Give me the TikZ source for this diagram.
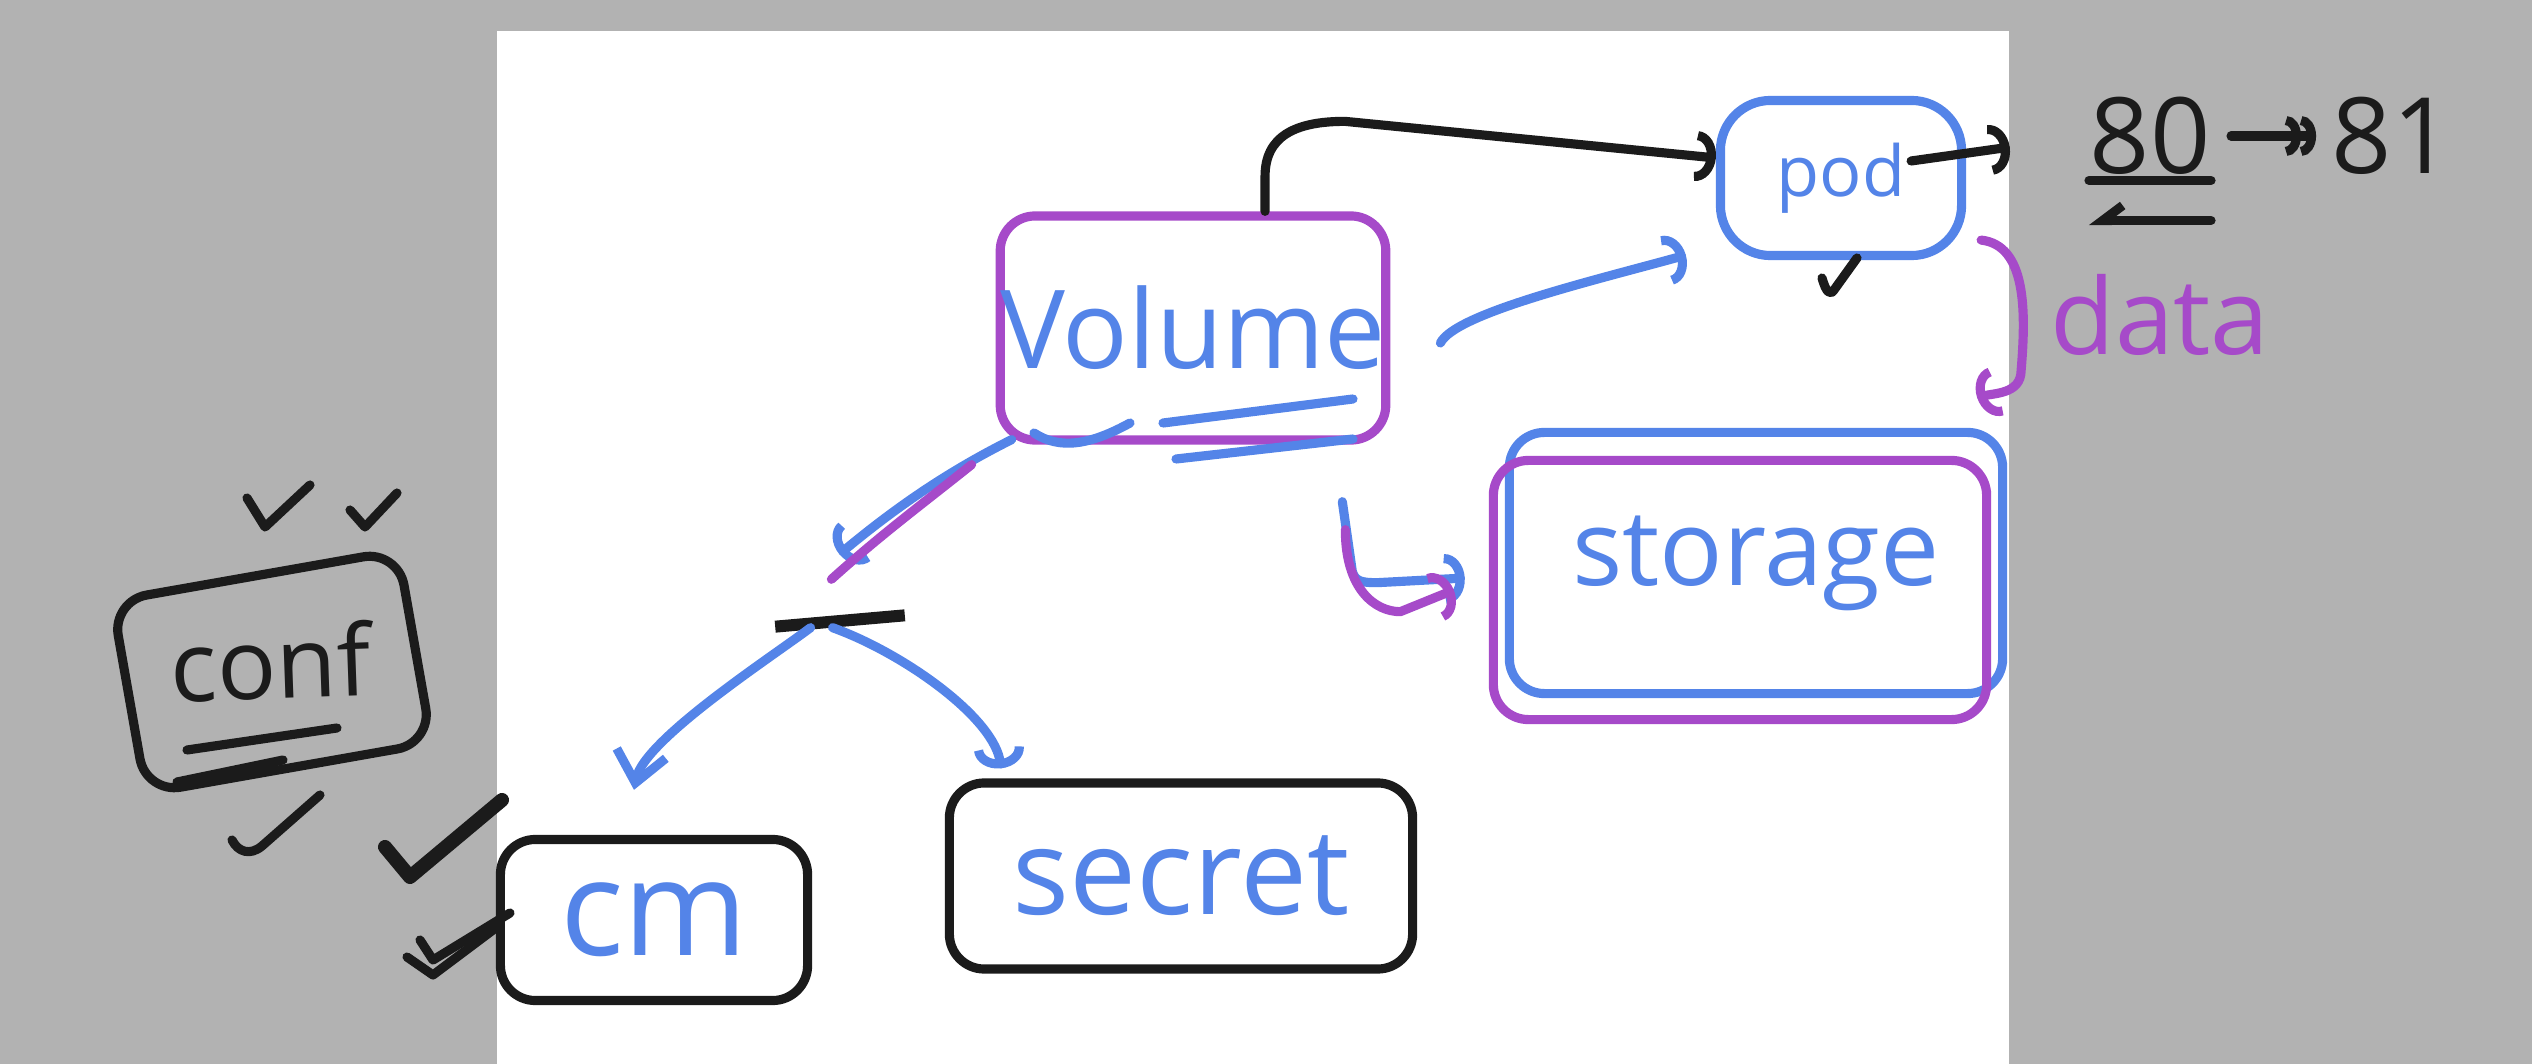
\documentclass[tikz,border=0pt]{standalone}
\usepackage{fontspec}
\newfontfamily\handfont{Open Sans}
\usetikzlibrary{positioning, arrows.meta}
\definecolor{backdrop}{HTML}{B2B2B2}
\definecolor{penblue}{HTML}{5484E8}
\definecolor{penpurple}{HTML}{A64AC9}
\definecolor{penblack}{HTML}{1B1B1B}

\begin{document}
\begin{tikzpicture}[x = 0.01cm, y = -0.01cm, line cap = round, line join = round,
		pen/.style={line width = 2.6pt},
		bluepen/.style={pen, draw = penblue},
		purplepen/.style={pen, draw = penpurple},
		blackpen/.style={pen, draw = penblack},
		box/.style={rectangle, pen, rounded corners = 0.35cm, inner sep = 0pt},
		words/.style={inner sep = 0pt, font = \handfont\fontsize{#1}{#1}\selectfont},
		arrow/.style={-{Arc Barb[length = 2mm, width = 5mm]}},
		vee/.style={-{Straight Barb[length = 3mm, width = 5mm]}}
	]
	
	\fill[backdrop] (0, 0) rectangle (2532, 1064);
	\fill[white] (497, 31) rectangle (2009, 1064);
	
	\node[box, draw = penpurple, minimum width = 3.84cm, minimum height = 2.24cm, words = 31, text = penblue] (volume) at (1193, 328) {Volume};
	\node[box, draw = penblue, rounded corners = 0.5cm, minimum width = 2.41cm, minimum height = 1.55cm, words = 20, text = penblue] (pod) at (1841, 178) {pod};
	\node[box, draw = penblue, minimum width = 4.93cm, minimum height = 2.61cm, words = 30, text = penblue] (storage) at (1756, 563) {storage};
	\node[box, draw = penpurple, minimum width = 4.93cm, minimum height = 2.59cm] (storageback) at (1740, 590) {};
	\node[box, draw = penblack, minimum width = 3.07cm, minimum height = 1.61cm, words = 38, text = penblue] (cm) at (654, 920) {cm};
	\node[box, draw = penblack, minimum width = 4.63cm, minimum height = 1.86cm, words = 34, text = penblue] (secret) at (1181, 876) {secret};
	\node[box, draw = penblack, rotate = 10, minimum width = 2.9cm, minimum height = 1.95cm, text depth = 0.5cm, words = 28, text = penblack] (conf) at (272, 672) {\rotatebox{-8}{conf}};
	\node[fill = penblack, rotate = 5, minimum width = 1.3cm, minimum height = 0.12cm, inner sep = 0pt] (split) at (840, 621) {};
	
	\node[words = 30, text = penpurple] (data) at (2160, 315) {data};
	\node[words = 30, text = penblack] (p80) at (2150, 136) {80};
	\node[words = 30, text = penblack, right = 1.2cm of p80] (p81) {81};
	
	\draw[blackpen, arrow] ([xshift = 0.72cm]volume.north) -- ++(0, -35) .. controls +(0, -40) and +(-50, 0) .. ++(80, -55) -- ([yshift = 0.2cm]pod.west);
	\draw[bluepen, arrow] ([xshift = 0.5cm, yshift = -0.15cm]volume.east) .. controls +(15, -30) and +(-90, 25) .. ([xshift = -0.3cm, yshift = 0.05cm]pod.south west);
	\draw[bluepen, arrow] ([xshift = -0.48cm, yshift = -0.57cm]volume.south east) -- ++(10, 70) .. controls +(3, 10) and +(-15, 0) .. ++(25, 11) -- ([xshift = -0.4cm, yshift = -0.15cm]storage.west);
	\draw[purplepen, arrow] ([xshift = -0.45cm, yshift = -0.85cm]volume.south east) .. controls +(0, 60) and +(-25, 0) .. ++(55, 82) -- ([xshift = -0.35cm]storageback.west);
	\draw[purplepen, arrow] ([xshift = 0.15cm, yshift = 0.2cm]pod.south east) .. controls +(45, 5) and +(5, -60) .. ++(40, 130) .. controls +(0, 25) and +(15, -5) .. ([xshift = -0.3cm, yshift = 0.3cm]storage.north east);
	\draw[blackpen, arrow, shorten >= 0.8cm] ([xshift = -0.55cm, yshift = 0.17cm]pod.east) -- (p80.west);
	\draw[blackpen, -{Arc Barb[length = 1.5mm, width = 4mm] Arc Barb[length = 1.5mm, width = 4mm]}, shorten <= 0.2cm, shorten >= 0.15cm] (p80) -- (p81);
	\draw[blackpen] ([yshift = -0.05cm]p80.south west) -- ([yshift = -0.05cm]p80.south east);
	\draw[blackpen, -{Straight Barb[right, length = 2mm, width = 3mm]}] ([yshift = -0.45cm]p80.south east) -- ([yshift = -0.45cm]p80.south west);
	
	\draw[bluepen, arrow] ([xshift = 0.16cm, yshift = 0.05cm]volume.south west) .. controls +(-60, 30) and +(60, -50) .. ([yshift = 0.6cm]split.north);
	\draw[purplepen] ([xshift = -0.24cm, yshift = -0.2cm]volume.south west) .. controls +(-50, 40) and +(50, -45) .. ([xshift = -0.08cm, yshift = 0.35cm]split.north);
	\draw[bluepen, vee] ([xshift = -0.3cm]split.south) .. controls +(-40, 30) and +(10, -50) .. ([xshift = -0.2cm, yshift = 0.45cm]cm.north);
	\draw[bluepen, arrow] ([xshift = -0.08cm]split.south) .. controls +(70, 25) and +(-5, -50) .. ([xshift = -1.8cm, yshift = 0.1cm]secret.north);
	
	\draw[bluepen] (1353, 399) -- (1163, 423);
	\draw[bluepen] (1176, 459) -- (1353, 439);
	\draw[bluepen] (1034, 433) .. controls (1060, 450) and (1090, 445) .. (1130, 423);
	\draw[blackpen] (187, 750) -- (337, 728);
	\draw[blackpen] (177, 782) -- (283, 760);
	\draw[blackpen] (1822, 278) .. controls (1826, 292) and (1830, 296) .. (1834, 290) -- (1857, 258);
	\draw[blackpen] (247, 498) -- (265, 527) -- (310, 485);
	\draw[blackpen] (350, 510) -- (365, 527) -- (397, 493);
	\draw[blackpen] (232, 840) .. controls (238, 852) and (250, 856) .. (262, 846) -- (320, 795);
	\draw[blackpen, line width = 4pt] (385, 847) -- (410, 877) -- (502, 800);
	\draw[blackpen] (420, 940) -- (433, 960) -- (510, 913);
	\draw[blackpen] (407, 957) -- (433, 975) -- (497, 927);
	
\end{tikzpicture}
\end{document}
